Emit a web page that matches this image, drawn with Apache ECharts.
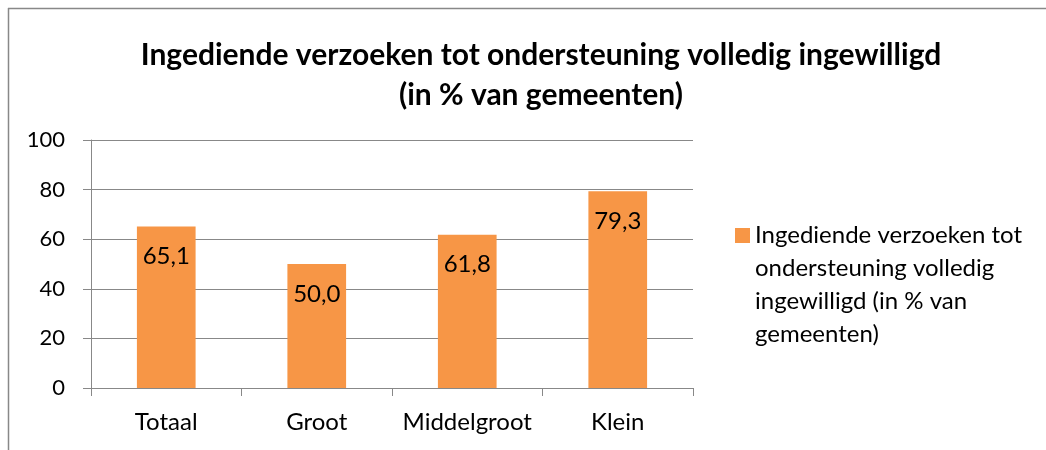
<!DOCTYPE html>
<html>
<head>
<meta charset="utf-8">
<script src="https://cdn.jsdelivr.net/npm/echarts@6/dist/echarts.min.js"></script>
<style>
	html, body { margin: 0; padding: 0; background: #fff; }
	#chart-div { width: 1046px; height: 450px; }
</style>
</head>
<body>
<div id="chart-div"></div>
<script>
// 数据
var g_categories = ["Totaal", "Groot", "Middelgroot", "Klein"];
var g_values = [65.1, 50.0, 61.8, 79.3];
var g_series_name = "Ingediende verzoeken tot ondersteuning volledig ingewilligd (in % van gemeenten)";
var g_legend_lines = ["Ingediende verzoeken tot", "ondersteuning volledig",
		      "ingewilligd (in % van", "gemeenten)"];
var g_y_ticks = [0, 20, 40, 60, 80, 100];

var g_font = "Lato, 'Open Sans', sans-serif";

var g_chart_option = {
	animation: false,
	backgroundColor: "#fff",
	textStyle: {
		fontFamily: g_font
	},
	title: {
		text: "Ingediende verzoeken tot ondersteuning volledig ingewilligd\n(in % van gemeenten)",
		left: 536,
		textAlign: "center",
		top: 30,
		textStyle: {
			fontFamily: g_font,
			fontSize: 30,
			fontWeight: "bold",
			color: "#000",
			lineHeight: 40
		}
	},
	// 外框（上边和左边）
	graphic: [{
		type: "line",
		shape: { x1: 8, y1: 8.5, x2: 1046, y2: 8.5 },
		style: { stroke: "#888", lineWidth: 1.5 }
	}, {
		type: "line",
		shape: { x1: 8.5, y1: 8, x2: 8.5, y2: 450 },
		style: { stroke: "#888", lineWidth: 1.5 }
	}],
	grid: {
		left: 91,
		right: 353,
		top: 140,
		bottom: 62
	},
	legend: {
		orient: "vertical",
		left: 735,
		top: 120,
		padding: 0,
		itemWidth: 15,
		itemHeight: 15,
		itemGap: 0,
		icon: "rect",
		// 前置空行使图例方块与第一行文字对齐
		formatter: () => "\n\n\n" + g_legend_lines.join("\n"),
		textStyle: {
			fontFamily: g_font,
			fontSize: 24,
			color: "#000",
			lineHeight: 33
		}
	},
	xAxis: {
		type: "category",
		data: g_categories,
		axisLine: { lineStyle: { color: "#888", width: 1 } },
		axisTick: { show: true, length: 8, lineStyle: { color: "#888" } },
		axisLabel: {
			interval: 0,
			fontFamily: g_font,
			fontSize: 24,
			color: "#000",
			margin: 22
		}
	},
	yAxis: {
		type: "value",
		min: g_y_ticks[0],
		max: g_y_ticks[g_y_ticks.length - 1],
		interval: 20,
		axisLine: { show: true, lineStyle: { color: "#888", width: 1 } },
		axisTick: { show: true, length: 8, lineStyle: { color: "#888" } },
		axisLabel: {
			fontFamily: g_font,
			fontSize: 22,
			color: "#000",
			margin: 26
		},
		splitLine: { lineStyle: { color: "#888", width: 1 } }
	},
	series: [{
		type: "bar",
		name: g_series_name,
		data: g_values,
		barWidth: "39%",
		itemStyle: { color: "#F79646" },
		label: {
			show: true,
			position: "insideTop",
			distance: 18,
			fontFamily: g_font,
			fontSize: 24,
			color: "#000",
			formatter: p => p.value.toFixed(1).replace(".", ",")
		}
	}]
};

var g_chart = echarts.init(document.getElementById("chart-div"));
g_chart.setOption(g_chart_option);
window.addEventListener("resize", g_chart.resize);
</script>
</body>
</html>
